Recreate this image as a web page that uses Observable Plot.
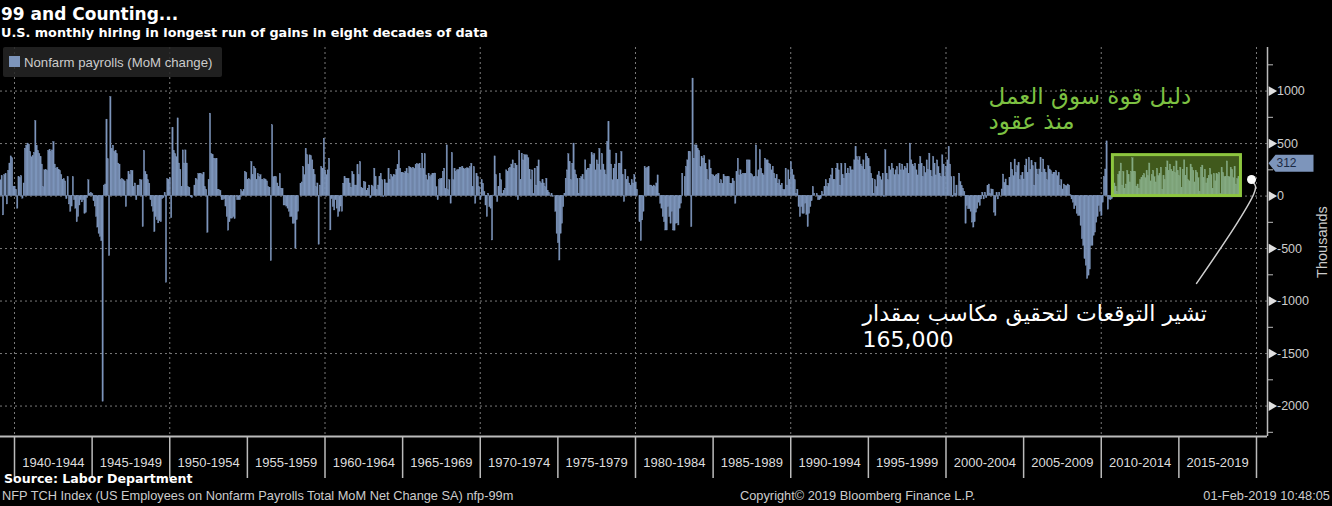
<!DOCTYPE html>
<html>
<head>
<meta charset="utf-8">
<script src="https://cdn.jsdelivr.net/npm/d3@7"></script>
<script src="https://cdn.jsdelivr.net/npm/@observablehq/plot@0.6"></script>
<style>
  html, body { margin: 0; padding: 0; background: #000; }
  body { width: 1332px; height: 506px; overflow: hidden; position: relative; font-family: "Liberation Sans", sans-serif; color: #ddd; }
  .abs { position: absolute; white-space: nowrap; }
  #title { left: 1px; top: 4px; font: bold 17px "DejaVu Sans", sans-serif; color: #fff; }
  #subtitle { left: 1px; top: 25px; font: bold 12.8px "DejaVu Sans", sans-serif; color: #fff; }
  #legend { left: 3px; top: 47px; width: 219px; height: 30px; background: rgba(38,38,38,0.85); border-radius: 2px; z-index: 2; }
  #legend .sw { position: absolute; left: 6px; top: 9px; width: 11px; height: 11px; background: #7d95bb; }
  #legend .lab { position: absolute; left: 21px; top: 8px; font: 13.2px "Liberation Sans", sans-serif; color: #ccc; }
  #chart { left: 0; top: 40px; }
  #source { left: 4px; top: 471px; font: bold 12.6px "DejaVu Sans", sans-serif; color: #fff; }
  #ticker { left: 2px; top: 488px; font: 12.8px "Liberation Sans", sans-serif; color: #ccc; }
  #copy { left: 740px; top: 488px; font: 12.8px "Liberation Sans", sans-serif; color: #ccc; }
  #stamp { right: 2px; top: 488px; font: 12.8px "Liberation Sans", sans-serif; color: #ccc; }
</style>
</head>
<body>
<div id="title" class="abs">99 and Counting...</div>
<div id="subtitle" class="abs">U.S. monthly hiring in longest run of gains in eight decades of data</div>
<div id="legend" class="abs"><div class="sw"></div><div class="lab">Nonfarm payrolls (MoM change)</div></div>
<div id="chart" class="abs"></div>
<div id="source" class="abs">Source: Labor Department</div>
<div id="ticker" class="abs">NFP TCH Index (US Employees on Nonfarm Payrolls Total MoM Net Change SA) nfp-99m</div>
<div id="copy" class="abs">Copyright© 2019 Bloomberg Finance L.P.</div>
<div id="stamp" class="abs">01-Feb-2019 10:48:05</div>
<script>
// Monthly change in nonfarm payrolls, thousands, starting January 1939
const firstYear = 1939;
const nfp1939 = [180, 150, 190, -184, 200, 210, -80, 240, 310, 378, 360, 90];
const nfp1940s = [
  90, 60, -120, 180, 170, 190, -25, 120, 450, 480, 500, 490,
  420, 370, 380, 410, 715, 480, 430, 400, 370, 300, 85, 245,
  250, 240, 430, 440, 420, 435, 515, 300, 260, 270, 250, 240,
  200, 150, 160, 140, -30, 180, -80, -150, -100, 180, -40, -120,
  -250, -200, -90, -40, -60, -40, -170, -160, -20, 150, 20, 30,
  20, -50, -100, -200, -300, -360, -390, -430, -1959, 100, 110, 728,
  350, -572, 944, 450, 480, 420, 430, 400, 310, 300, 150, 160,
  150, 140, -105, 150, 230, 200, 240, 240, 85, 120, -40, 100,
  100, 150, 150, -296, 430, 230, 200, 150, 118, -40, -100, -150,
  -343, -200, -230, -260, -240, -250, -30, -20, 30, -826, 160, 150
];
const nfp1950s = [
  170, -210, 650, 430, 400, 370, 740, 310, 250, 85, 435, 310,
  435, 310, 85, 80, -10, -20, 0, 100, 165, 150, 210, 210,
  210, 200, 220, 85, 60, -350, 150, 785, 400, 390, 355, 350,
  355, 60, 55, 50, -40, -40, -30, -100, -200, -330, -250, -215,
  -215, -200, -220, 0, -40, -40, -40, 55, 40, 55, 230, 220,
  150, 160, 150, 325, 200, 276, 260, 150, 210, 180, 200, 150,
  150, 160, 150, 140, 85, 80, -620, 674, 180, 180, 180, 120,
  85, 210, 70, 70, -90, -90, -100, -120, -150, -200, -200, -264,
  -264, -500, -230, -150, 0, 118, 130, 276, 200, 450, 390, 300,
  388, 380, 340, 250, 200, 85, 120, -464, 100, 276, 260, 547
];
const nfp1960s = [
  245, 200, 245, 356, -327, -30, -105, -137, -40, -120, -200, -150,
  -100, -150, 118, 180, 160, 165, 165, 120, 80, 229, 200, 100,
  100, 293, 200, 324, 80, 70, 134, 130, 50, 70, 100, -20,
  100, 85, 261, 180, 55, 100, 180, 213, 150, -10, 150, 120,
  120, 261, 150, 200, 180, 200, 197, 250, 293, 430, 260, 220,
  220, 215, 230, 260, 210, 275, 265, 255, 270, 260, 295, 305,
  300, 308, 260, 404, 260, 398, 197, 150, 213, 180, 197, 213,
  210, 215, 85, -40, 150, 160, 165, 230, 261, 70, 483, 55,
  150, -73, 410, 150, 261, 230, 245, 250, 270, 265, 280, 262,
  250, 261, 265, 255, 276, 308, 85, 276, -73, 210, 180, 85
];
const nfp1970s = [
  -40, 150, 118, 40, -90, -200, 22, -105, -120, -423, 5, 378,
  200, -57, 85, 213, 150, 22, 50, 70, 245, 230, 261, 270,
  300, 340, 260, 308, 290, -40, 430, 150, 404, 340, 390, 388,
  388, 360, 250, 150, 245, 22, 261, 100, 280, 340, 134, 120,
  150, 120, 85, 165, 50, 30, 5, 20, -10, 0, -150, -360,
  -450, -614, -360, -264, -105, 22, 165, 245, 398, 324, 150, 308,
  500, 245, 200, 165, 22, 165, 180, 200, 150, 340, 245, 260,
  260, 300, 410, 388, 400, 245, 340, 300, 450, 245, 400, 300,
  245, 200, 515, 706, 435, 300, 150, 260, 300, 404, 150, 308,
  308, 420, 200, -57, 250, 150, 180, 120, 100, 150, 120, 200
];
const nfp1980s = [
  130, 60, 0, -250, -430, -232, -150, 277, 260, 270, 277, 100,
  100, 90, 100, 86, 120, 197, 22, -73, -120, -200, -250, -328,
  -328, -105, -200, -264, -150, -328, -330, -264, -260, -280, -120, -73,
  213, 0, 180, 277, 340, 420, 420, -296, 1119, 356, 483, 483,
  450, 430, 277, 372, 356, 380, 308, 250, 150, 340, 261, 200,
  197, 180, 197, 200, 213, 118, 150, 118, 200, 180, 180, 180,
  180, 118, 118, 165, 140, -73, 229, 356, 197, 245, 200, 210,
  213, 213, 340, 340, 340, 213, 200, 180, 180, 483, 181, 245,
  436, 260, 213, 197, 356, 340, 340, 308, 300, 245, 280, 213,
  165, 200, 118, 150, 100, 118, 55, 60, 261, 100, 245, 150
];
const nfp1990s = [
  324, 250, 197, 150, 22, 60, -105, -200, -105, -170, -170, -73,
  -180, -296, -170, -105, -50, 86, 22, 0, 20, -40, -40, -30,
  40, 10, 86, 150, 86, 118, 160, 197, 261, 150, 150, 261,
  308, 245, 100, 308, 200, 165, 308, 213, 261, 213, 277, 245,
  245, 340, 467, 372, 340, 372, 300, 277, 340, 250, 404, 372,
  350, 277, 213, 165, 20, 150, 86, 197, 230, 181, 150, 213,
  -10, 436, 213, 150, 277, 245, 308, 261, 200, 245, 277, 200,
  308, 245, 300, 245, 277, 260, 308, 213, 500, 340, 300, 277,
  308, 245, 197, 300, 372, 308, 181, 277, 220, 340, 250, 404,
  240, 181, 372, 308, 197, 340, 277, 213, 180, 388, 300, 181
];
const nfp2000s = [
  277, 340, 467, 300, 181, -10, 181, 22, 100, 0, 213, 134,
  95, 70, 40, -264, -95, -126, -126, -150, -253, -300, -250, -158,
  -120, -63, -95, -32, 32, -32, 32, -20, 95, 110, 20, 63,
  60, -158, -190, 32, -32, 32, 0, 63, 205, 126, 158, 95,
  95, 174, 316, 250, 190, 348, 221, 284, 316, 150, 190, 221,
  158, 284, 348, 221, 363, 250, 332, 284, 100, 316, 253, 200,
  253, 363, 221, 348, 253, 221, 150, 284, 253, 237, 205, 221,
  221, 237, 190, 221, 95, 150, 63, 110, 95, 95, 110, 100,
  10, -32, -63, -126, -95, -170, -190, -190, -284, -411, -474, -600,
  -664, -790, -758, -700, -474, -474, -379, -348, -253, -200, -95, -150
];
const nfp2010s = [
  -190, -63, 180, 253, 521, -130, -32, -40, -30, 200, 120, 90,
  40, 200, 230, 310, 100, 230, 70, 110, 240, 200, 130, 230,
  360, 230, 230, 90, 110, 70, 150, 170, 190, 210, 170, 240,
  190, 310, 140, 200, 240, 180, 130, 260, 190, 210, 270, 60,
  190, 150, 270, 330, 240, 300, 250, 230, 280, 220, 330, 240,
  190, 270, 80, 250, 340, 190, 270, 150, 140, 300, 270, 240,
  130, 240, 220, 170, 40, 270, 290, 170, 250, 120, 160, 190,
  260, 200, 70, 210, 140, 210, 200, 220, 20, 270, 220, 180,
  180, 330, 180, 180, 270, 250, 170, 280, 110, 160, 180, 312
];

// axis / scale settings
const xDomain = [1939.098, 2020.709];
const yDomain = [-2290, 1415];
const yMajor = d3.range(-2000, 1001, 500);
const yMinor = d3.range(-2250, 1251, 250).filter(d => d % 500 !== 0);
const decades = d3.range(1940, 2021, 10);
const bandEdges = d3.range(1940, 2021, 5);
const bandMids = d3.range(1942.5, 2020, 5);
const streakBoxTop = 390;

// annotations (data coordinates)
const noteGreen = [{x: 2002.74, y: 835, text: "دليل قوة سوق العمل\nمنذ عقود"}];
const noteWhite = [{x: 1994.62, y: -1232, text: "تشير التوقعات لتحقيق مكاسب بمقدار\n165,000"}];
const pointerPath = [
  {x: 2016.14, y: -832}, {x: 2018.78, y: -251}, {x: 2019.81, y: 15},
  {x: 2019.94, y: 91}, {x: 2019.74, y: 139}
];
const pointerDot = [{x: 2019.68, y: 158}];

const values = [].concat(nfp1939, nfp1940s, nfp1950s, nfp1960s, nfp1970s, nfp1980s, nfp1990s, nfp2000s, nfp2010s);
const data = values.map((v, i) => ({t: firstYear + i / 12, v}));
let s = values.length;
while (s > 0 && values[s - 1] > 0) s--;
const streak = [{start: firstYear + s / 12, end: firstYear + values.length / 12, n: values.length - s}];
const last = [values[values.length - 1]];

const barColor = "#7d95bb";
const green = "#8dc63f";

const badge = {
  draw(ctx) {
    ctx.moveTo(1, 0); ctx.lineTo(8, -8.5); ctx.lineTo(46, -8.5);
    ctx.lineTo(46, 8.5); ctx.lineTo(8, 8.5); ctx.closePath();
  }
};

const chart = Plot.plot({
  width: 1332, height: 440,
  marginLeft: 0, marginRight: 65, marginTop: 7, marginBottom: 44,
  style: {background: "transparent", color: "#ccc", fontFamily: "Liberation Sans, sans-serif", fontSize: "12px"},
  x: {type: "linear", domain: xDomain, axis: null},
  y: {domain: yDomain, axis: null},
  marks: [
    Plot.gridX(decades, {stroke: "#7a7a7a", strokeOpacity: 1, strokeDasharray: "2,3"}),
    Plot.gridY(yMajor, {stroke: "#7a7a7a", strokeOpacity: 1, strokeDasharray: "2,3"}),
    Plot.rect(data, {x1: "t", x2: d => d.t + 1 / 12, y1: 0, y2: "v", fill: barColor, stroke: barColor, strokeWidth: 0.35}),
    Plot.rect(streak, {x1: "start", x2: "end", y1: 0, y2: streakBoxTop, fill: green, fillOpacity: 0.45, stroke: green, strokeWidth: 3}),
    Plot.ruleX([xDomain[1]], {stroke: "#bbb", strokeWidth: 1.5}),
    Plot.ruleY([yDomain[0]], {stroke: "#bbb", strokeWidth: 2}),
    Plot.axisX(bandEdges, {anchor: "bottom", tickSize: 42, tickFormat: () => "", stroke: "#bbb", strokeWidth: 1.5}),
    Plot.axisX(bandMids, {anchor: "bottom", tickSize: 0, tickPadding: 21, tickFormat: d => `${d - 2.5}-${d + 1.5}`, fontSize: 13, fill: "#ddd"}),
    Plot.axisY(yMinor, {anchor: "right", tickSize: 5, tickFormat: () => "", stroke: "#bbb", label: null}),
    Plot.axisY(yMajor, {anchor: "right", tickSize: 0, tickPadding: 9.5, tickFormat: d => String(d), fontSize: 12.5, fill: "#ccc",
      label: "Thousands", labelAnchor: "center", labelOffset: 59, labelArrow: "none"}),
    Plot.dot(yMajor, {frameAnchor: "right", y: d => d, symbol: "triangle", rotate: 90, r: 3.6, fill: "#e0e0e0", stroke: "none", dx: 4}),
    Plot.line(pointerPath, {x: "x", y: "y", curve: "catmull-rom", stroke: "#cfcfcf", strokeWidth: 1.5}),
    Plot.dot(pointerDot, {x: "x", y: "y", r: 4.5, fill: "#fff", stroke: "none"}),
    Plot.text(noteGreen, {x: "x", y: "y", text: "text", textAnchor: "start", lineAnchor: "middle", lineHeight: 1.1, fontSize: 23, fill: "#7dc142", fontFamily: "DejaVu Sans, sans-serif"}),
    Plot.text(noteWhite, {x: "x", y: "y", text: "text", textAnchor: "start", lineAnchor: "middle", lineHeight: 1.18, fontSize: 22, fill: "#ffffff", fontFamily: "DejaVu Sans, sans-serif"}),
    Plot.dot(last, {frameAnchor: "right", y: d => d, symbol: badge, fill: barColor, stroke: "none"}),
    Plot.text(last, {frameAnchor: "right", y: d => d, text: d => String(d), dx: 9, textAnchor: "start", fill: "#1b2a44", fontSize: 12})
  ]
});
// enlarge the rotated y-axis title
chart.querySelectorAll("text").forEach(t => { if (t.textContent === "Thousands") t.setAttribute("font-size", "14.5"); });
document.getElementById("chart").appendChild(chart);
</script>
</body>
</html>
